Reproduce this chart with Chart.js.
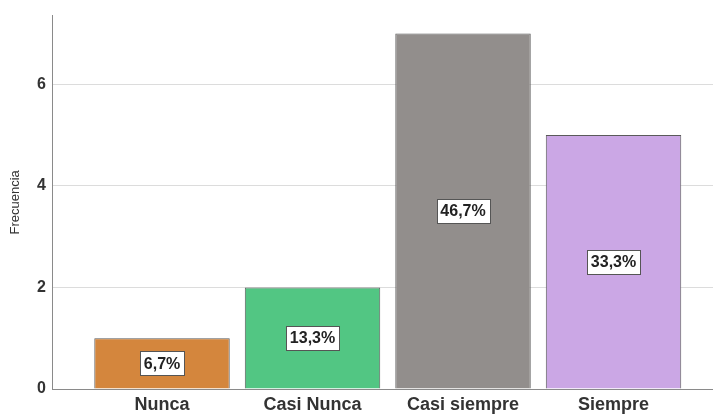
<!DOCTYPE html>
<html>
<head>
<meta charset="utf-8">
<script src="https://cdn.jsdelivr.net/npm/chart.js@4/dist/chart.umd.min.js"></script>
<style>
  html, body { margin: 0; padding: 0; background: #fff; }
  #wrap { width: 713px; height: 415px; }
</style>
</head>
<body>
<div id="wrap"><canvas id="myChart"></canvas></div>
<script>
// Frecuencias por categoría
const categorias = ['Nunca', 'Casi Nunca', 'Casi siempre', 'Siempre'];
const frecuencias = [1, 2, 7, 5];
const colores = ['#d4863d', '#52c683', '#928e8c', '#cba7e5'];
const yTicks = [0, 2, 4, 6];

const total = frecuencias.reduce((a, b) => a + b, 0);
const porcentajes = frecuencias.map(f => (f / total * 100).toFixed(1).replace('.', ',') + '%');

const fuente = '"Liberation Sans", Arial, sans-serif';

// etiqueta con porcentaje en el centro de cada barra
const etiquetasPlugin = {
  id: 'etiquetas',
  afterDatasetsDraw(chart) {
    const ctx = chart.ctx;
    const meta = chart.getDatasetMeta(0);
    ctx.save();
    ctx.font = 'bold 16px ' + fuente;
    ctx.textAlign = 'center';
    ctx.textBaseline = 'middle';
    meta.data.forEach((bar, i) => {
      const txt = porcentajes[i];
      const cy = (bar.y + bar.base) / 2;
      const w = Math.round(ctx.measureText(txt).width + 8);
      const h = 24;
      const x0 = Math.round(bar.x - w / 2);
      const y0 = Math.round(cy - h / 2);
      ctx.fillStyle = '#ffffff';
      ctx.fillRect(x0, y0, w, h);
      ctx.strokeStyle = '#555';
      ctx.lineWidth = 1;
      ctx.strokeRect(x0 + 0.5, y0 + 0.5, w, h);
      ctx.fillStyle = '#222';
      ctx.fillText(txt, bar.x, cy + 1);
    });
    ctx.restore();
  }
};

const ctx = document.getElementById('myChart').getContext('2d');

const myChart = new Chart(ctx, {
  type: 'bar',
  data: {
    datasets: [{
      label: 'Frecuencia',
      data: frecuencias.map((f, i) => ({ x: i, y: f })),
      backgroundColor: colores,
      borderColor: '#5a5a5a',
      borderWidth: 1,
      barPercentage: 0.9,
      categoryPercentage: 1
    }]
  },
  options: {
    responsive: true,
    maintainAspectRatio: false,
    animation: false,
    layout: { padding: { top: 15, right: 0, left: 0, bottom: 0 } },
    plugins: {
      legend: { display: false },
      tooltip: { enabled: false }
    },
    scales: {
      x: {
        type: 'linear',
        offset: false,
        min: -0.731,
        max: 3.661,
        afterBuildTicks(scale) {
          scale.ticks = categorias.map((c, i) => ({ value: i }));
        },
        afterFit(scale) { scale.height = 26; },
        grid: { display: false, drawTicks: false },
        border: { color: '#8a8a8a', width: 1 },
        ticks: {
          padding: 5,
          color: '#333',
          maxRotation: 0,
          font: { family: fuente, size: 18, weight: 'bold' },
          callback: v => categorias[v] || ''
        }
      },
      y: {
        min: 0,
        max: 7.35,
        afterBuildTicks(scale) {
          scale.ticks = yTicks.map(v => ({ value: v }));
        },
        afterFit(scale) { scale.width = 52; },
        grid: { color: '#dcdcdc', drawTicks: false },
        border: { color: '#8a8a8a', width: 1 },
        title: {
          display: true,
          text: 'Frecuencia',
          color: '#333',
          font: { family: fuente, size: 13 },
          padding: { top: 8, bottom: 0 }
        },
        ticks: {
          padding: 6,
          color: '#333',
          font: { family: fuente, size: 16, weight: 'bold' }
        }
      }
    }
  },
  plugins: [etiquetasPlugin]
});
</script>
</body>
</html>
